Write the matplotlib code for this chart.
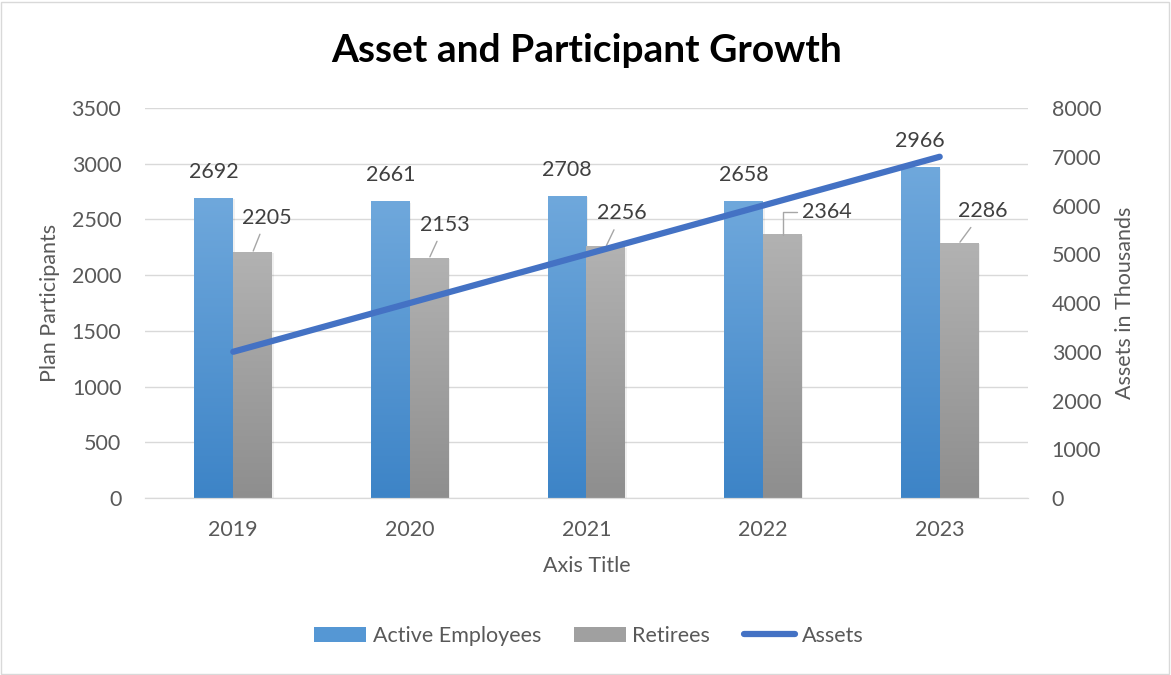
import numpy as np
import matplotlib
matplotlib.use("Agg")
import matplotlib.pyplot as plt
from matplotlib.colors import LinearSegmentedColormap
from matplotlib.lines import Line2D
from matplotlib.patches import Patch, Rectangle

years = ["2019", "2020", "2021", "2022", "2023"]
active = [2692, 2661, 2708, 2658, 2966]
retirees = [2205, 2153, 2256, 2364, 2286]
assets = [3000, 4000, 5000, 6000, 7000]

plt.rcParams["font.family"] = ["Lato", "DejaVu Sans"]
TXT = "#595959"
GRID = "#D9D9D9"
FS = 15.5

fig = plt.figure(figsize=(11.71, 6.75), dpi=100)
fig.patches.append(Rectangle((0.001, 0.002), 0.997, 0.995, transform=fig.transFigure,
                             fill=False, ec="#D9D9D9", lw=1))
ax = fig.add_axes([0.1238, 0.2622, 0.7541, 0.5778])
ax2 = ax.twinx()

x = np.arange(len(years))
w = 0.22
blue_cmap = LinearSegmentedColormap.from_list("b", ["#3D84C7", "#6FA8DC"])
gray_cmap = LinearSegmentedColormap.from_list("g", ["#8E8E8E", "#B2B2B2"])
grad = np.linspace(0, 1, 256).reshape(-1, 1)


def grad_bars(xs, vals, cmap):
    bars = ax.bar(xs, vals, w, color="none", zorder=2)
    for b in bars:
        x0, h = b.get_x(), b.get_height()
        # faint shadow
        ax.add_patch(Rectangle((x0 + 0.008, -15), w, h + 5, color="#000000", alpha=0.06, lw=0, zorder=1.5))
        ax.imshow(grad, extent=[x0, x0 + w, 0, h], origin="lower", cmap=cmap,
                  aspect="auto", zorder=2)
    return bars


grad_bars(x - w / 2, active, blue_cmap)
grad_bars(x + w / 2, retirees, gray_cmap)

ax.set_xlim(-0.5, 4.5)
ax.set_ylim(0, 3500)
ax.set_yticks(range(0, 3501, 500))
ax.set_xticks(x)
ax.set_xticklabels(years)
ax.yaxis.grid(True, color=GRID, lw=1)
ax.set_axisbelow(True)
ax.tick_params(axis="y", length=0, labelsize=FS, colors=TXT, pad=17)
ax.tick_params(axis="x", length=0, labelsize=FS, colors=TXT, pad=16)

ax2.plot(x, assets, color="#4472C4", lw=4.5, solid_capstyle="round", zorder=3)
ax2.set_ylim(0, 8000)
ax2.set_yticks(range(0, 8001, 1000))
ax2.tick_params(axis="y", length=0, labelsize=FS, colors=TXT, pad=17)

for a in (ax, ax2):
    for s in ("top", "left", "right"):
        a.spines[s].set_visible(False)
    a.spines["bottom"].set_color(GRID)

# data labels
for xi, v in zip(x, active):
    ax.annotate(str(v), (xi - w / 2, v), xytext=(0, 19), textcoords="offset points",
                ha="center", va="center", fontsize=FS, color="#404040")

gray_off = [(10, 25), (11, 24), (11.5, 24), (32, 16), (17, 23)]
for i, (xi, v) in enumerate(zip(x, retirees)):
    dx, dy = gray_off[i]
    if i == 3:
        ap = dict(arrowstyle="-", color="#A6A6A6", lw=1, shrinkA=2, shrinkB=0,
                  relpos=(0, 0.5), connectionstyle="angle,angleA=180,angleB=90,rad=0")
    else:
        ap = dict(arrowstyle="-", color="#A6A6A6", lw=1, shrinkA=3, shrinkB=1)
    ax.annotate(str(v), (xi + w / 2, v), xytext=(dx, dy), textcoords="offset points",
                ha="center", va="center", fontsize=FS, color="#404040", arrowprops=ap)

fig.text(0.5013, 1 - 51 / 675, "Asset and Participant Growth", ha="center", va="center",
         fontsize=28, fontweight="bold", color="black")
fig.text(50 / 1171, 1 - 303 / 675, "Plan Participants", rotation=90, ha="center",
         va="center", fontsize=FS, color=TXT)
fig.text(1125 / 1171, 1 - 303 / 675, "Assets in Thousands", rotation=90, ha="center",
         va="center", fontsize=FS, color=TXT)
fig.text(587 / 1171, 1 - 566 / 675, "Axis Title", ha="center", va="center",
         fontsize=FS, color=TXT)

handles = [Patch(facecolor="#5597D4", edgecolor="none"),
           Patch(facecolor="#A0A0A0", edgecolor="none"),
           Line2D([0], [0], color="#4472C4", lw=4.5, solid_capstyle="round")]
leg = fig.legend(handles, ["Active Employees", "Retirees", "Assets"], loc="center",
                 bbox_to_anchor=(0.503, 1 - 636 / 675), ncol=3, frameon=False, fontsize=FS,
                 handlelength=2.4, handleheight=0.75, handletextpad=0.3, columnspacing=1.55)
for t in leg.get_texts():
    t.set_color(TXT)

fig.savefig("out.png", dpi=100)
